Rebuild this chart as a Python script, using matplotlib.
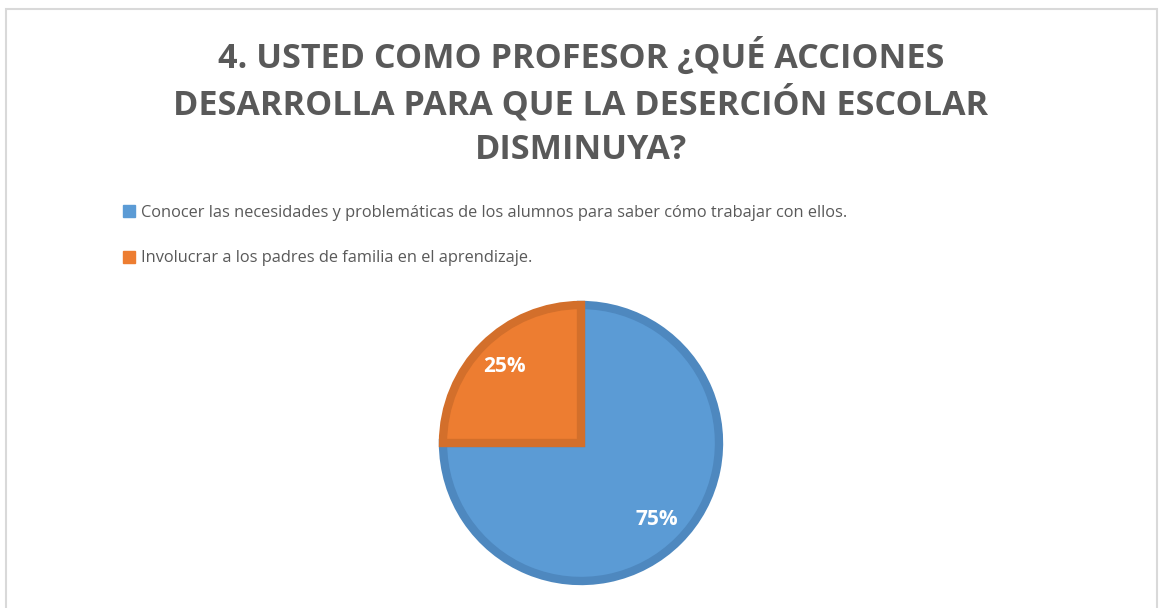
import matplotlib.pyplot as plt
from matplotlib.patches import Patch, Rectangle

title_lines = ['4. USTED COMO PROFESOR ¿QUÉ ACCIONES',
               'DESARROLLA PARA QUE LA DESERCIÓN ESCOLAR',
               'DISMINUYA?']
labels = ['Conocer las necesidades y problemáticas de los alumnos para saber cómo trabajar con ellos.',
          'Involucrar a los padres de familia en el aprendizaje.']
values = [75, 25]
colors = ['#5B9BD5', '#ED7D31']
edges = ['#4E88BF', '#D36F2B']

W, H = 1159, 608
fig = plt.figure(figsize=(W / 100, H / 100), dpi=100)
fig.patch.set_facecolor('white')

# light gray chart frame (bottom edge runs off the image)
fig.patches.append(Rectangle((6 / W, -0.05), 1151 / W, 1.05 - 9 / H,
                             transform=fig.transFigure, fill=False,
                             edgecolor='#D9D9D9', linewidth=1.5))

for i, line in enumerate(title_lines):
    fig.text(581 / W, 1 - (57 + i * 46.5) / H, line, ha='center', va='center',
             fontsize=24.6, fontweight='bold', color='#595959', family='Open Sans')

handles = [Patch(facecolor=c, edgecolor=c) for c in colors]
fig.legend(handles, labels, loc='upper left', bbox_to_anchor=(123 / W, 1 - 205 / H),
           frameon=False, handlelength=0.75, handleheight=0.75, handletextpad=0.35,
           labelspacing=1.8, borderpad=0, borderaxespad=0,
           prop={'family': 'Open Sans', 'size': 11.8}, labelcolor='#595959')

# pie: center (581, 443), radius 1 == 138 px
half = 150
ax = fig.add_axes([(581 - half) / W, (H - 443 - half) / H, 2 * half / W, 2 * half / H])
wedges, texts, autotexts = ax.pie(values, colors=colors, startangle=90, counterclock=False,
                                  autopct='%1.0f%%', pctdistance=0.78,
                                  wedgeprops={'linewidth': 6},
                                  textprops={'color': 'white', 'fontsize': 15,
                                             'fontweight': 'bold', 'family': 'Open Sans'})
for w, e in zip(wedges, edges):
    w.set_edgecolor(e)
lim = half / 138
ax.set_xlim(-lim, lim)
ax.set_ylim(-lim, lim)
ax.set_aspect('equal')
ax.axis('off')

fig.savefig('out.png', dpi=100)
